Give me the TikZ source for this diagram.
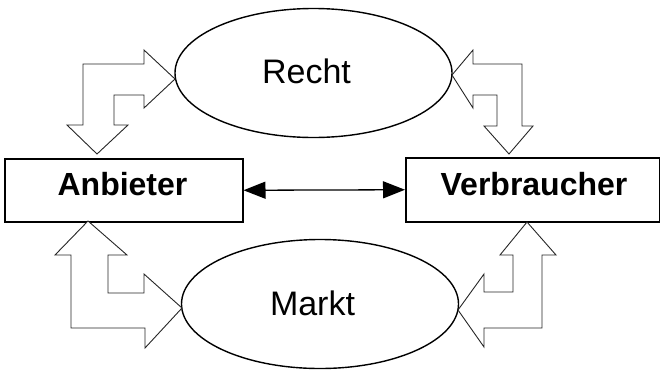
\documentclass[tikz,border=0pt]{standalone}
\usepackage{fontspec}
\setmainfont{Liberation Sans}
\usetikzlibrary{shapes.geometric,arrows.meta}
\tikzset{
  x=1pt,y=-1pt,
  oval/.style={draw=black,line width=1.4pt,ellipse,inner sep=0pt,minimum width=277pt,minimum height=129pt},
  actor/.style={draw=black,line width=1.5pt,rectangle,inner sep=0pt,anchor=north west},
  blockarrow/.style={draw=black!85,line width=0.9pt,fill=white,line join=miter},
  oltext/.style={anchor=base,font=\fontsize{34}{40}\selectfont},
  boxtext/.style={anchor=base,font=\fontsize{32}{38}\selectfont\bfseries},
  link/.style={draw=black,line width=1.3pt,{Triangle[length=22pt,width=17pt]}-{Triangle[length=22pt,width=17pt]}}
}
\begin{document}
\begin{tikzpicture}
\useasboundingbox (0,0) rectangle (660,370);
% ellipses
\node[oval] (recht) at (313.5,73) {};
\node[oval] (markt) at (320,304) {};
\node[oltext] (rechtlbl) at (306.5,83) {Recht};
\node[oltext] (marktlbl) at (312.5,315) {Markt};
% boxes
\node[actor,minimum width=238pt,minimum height=63pt] (anb) at (4,158) {};
\node[actor,minimum width=254pt,minimum height=64pt] (ver) at (405,157) {};
\node[boxtext] (anblbl) at (122.5,195) {Anbieter};
\node[boxtext] (verlbl) at (534,195) {Verbraucher};
% double arrow
\draw[link] (anb.east) -- (ver.west);
% bent block arrows
\draw[blockarrow] (175,79) -- (144,50) -- (144,64) -- (83,64) -- (83,125) -- (67,125) -- (97,154) -- (128,125) -- (114,125) -- (114,95) -- (144,95) -- (144,108) -- cycle;
\draw[blockarrow] (452,75) -- (473,50) -- (473,64) -- (522,64) -- (522,126) -- (533,126) -- (509,154) -- (484,126) -- (497,126) -- (497,95) -- (473,95) -- (473,108) -- cycle;
\draw[blockarrow] (88,221) -- (127,255) -- (108,255) -- (108,293) -- (144,293) -- (144,274) -- (182,308) -- (145,348) -- (145,328) -- (71,328) -- (71,255) -- (55,255) -- cycle;
\draw[blockarrow] (527,222) -- (556,255) -- (542,255) -- (542,328) -- (484,328) -- (484,347) -- (458,310) -- (484,274) -- (484,292) -- (513,292) -- (513,255) -- (500,255) -- cycle;
\end{tikzpicture}
\end{document}
